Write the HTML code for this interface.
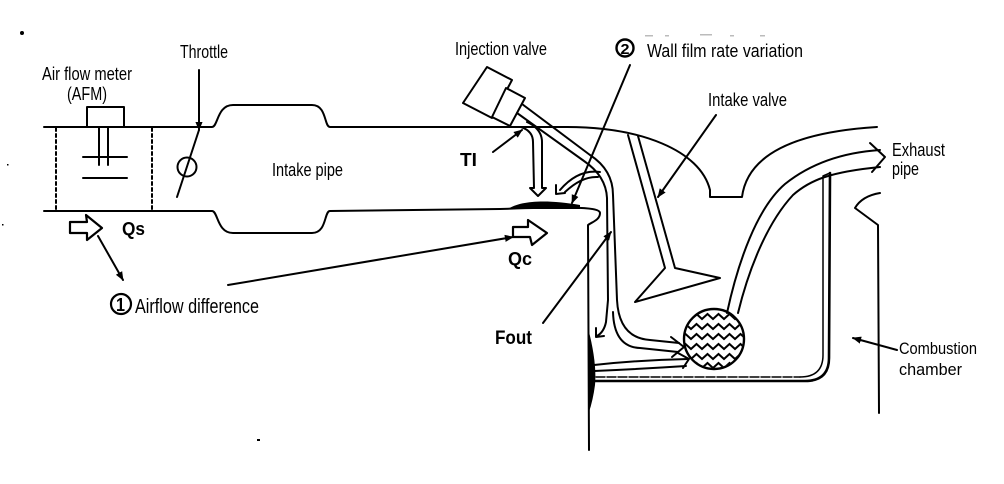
<!DOCTYPE html>
<html><head><meta charset="utf-8"><style>
html,body{margin:0;padding:0;background:#fff;}
svg{display:block;}
text{font-family:"Liberation Sans",Arial,sans-serif;fill:#000;}
</style></head><body>
<svg width="1004" height="484" viewBox="0 0 1004 484" xmlns="http://www.w3.org/2000/svg">
<defs>
<marker id="ah" viewBox="0 0 10 10" refX="9" refY="5" markerWidth="9" markerHeight="9" markerUnits="userSpaceOnUse" orient="auto">
<path d="M0,1 L10,5 L0,9 Z" fill="#000"/>
</marker>
<clipPath id="cc"><circle cx="714" cy="339" r="29"/></clipPath>
</defs>
<g fill="none" stroke="#000" stroke-width="2" stroke-linejoin="round" stroke-linecap="round">
<!-- intake pipe top -->
<path d="M44,127 L212,127 C218,127 217,105 233,105 L312,105 C327,105 324,127 330,127 L567,127 C640,127 700,150 710,190 L710,197 L742,197 Q750,135 877,127"/>
<!-- intake pipe bottom -->
<path d="M44,211 L212,211 C218,211 217,233 233,233 L312,233 C327,233 324,211 330,211 L500,209 C560,207 600,206 600,213 C600,220 592,222 588,225 L589,450"/>
<!-- dotted AFM section -->
<path d="M56,128 L56,211 M152,128 L152,211" stroke-dasharray="3,3" stroke-width="2"/>
<!-- AFM -->
<path d="M87,127 L87,107 L124,107 L124,127"/>
<path d="M99,127 L99,165 M108,127 L108,165 M83,157 L127,157 M83,178 L127,178"/>
<!-- throttle -->
<path d="M199,70 L199,130" marker-end="url(#ah)"/>
<path d="M199,130 L177,197"/>
<circle cx="187" cy="167" r="9.5"/>
<!-- Qs block arrow -->
<path d="M70,222 L87,222 L86,215 L102,228 L87,240 L87,233 L70,233 Z" stroke-width="2.2"/>
<!-- Qc block arrow -->
<path d="M513,227 L528,227 L528,220 L547,233 L532,245 L530,237 L513,237 Z" stroke-width="2.2"/>
<!-- airflow difference arrows -->
<path d="M98,236 L123,280" marker-end="url(#ah)"/>
<path d="M228,285 L513,237" marker-end="url(#ah)"/>
<!-- injector -->
<path d="M463,103 L487,67 L512,80 L492,118 Z" fill="#fff"/>
<path d="M492,117 L506,88 L525,98 L510,126 Z" fill="#fff"/>
<!-- nozzle / fuel flow double line -->
<path d="M522,104 L590,155 Q613,170 613,195 L617,300 Q619,338 650,340 L679,343"/>
<path d="M517,113 L584,161 Q606,176 607,198 L608,300 L606,322 Q604,332 597,336"/>
<path d="M613,312 Q614,347 640,348 L678,352"/>
<path d="M671,337 L684,347 L672,357"/>
<path d="M596,328 L596,337 L604,336"/>
<!-- TI double arrow -->
<path d="M521,127 Q533,131 533,142 L534,188 L530,188 L538,196 L546,188 L542,188 L542,142 Q542,129 527,122"/>
<!-- small curved arrow back to film -->
<path d="M600,172 Q578,169 560,190"/>
<path d="M598,177 Q582,176 565,192"/>
<path d="M556,185 L556,194 L565,193"/>
<!-- lower flow arrow to circle -->
<path d="M594,365 Q640,360 688,359"/>
<path d="M594,371 Q640,369 686,366"/>
<path d="M678,353 L689,359 L683,368"/>
<!-- label arrows -->
<path d="M493,152 L522,130" marker-end="url(#ah)"/>
<path d="M630,65 L572,203" marker-end="url(#ah)"/>
<path d="M716,115 L658,197" marker-end="url(#ah)"/>
<path d="M543,323 L611,232" marker-end="url(#ah)"/>
<path d="M897,350 L853,338" marker-end="url(#ah)"/>
<!-- intake valve -->
<path d="M628,135 L665,268 L635,302 L720,278 L675,268 L638,136"/>
<!-- exhaust flow arrow -->
<path d="M727,313 C738,262 757,208 785,184 C815,160 850,152 880,150"/>
<path d="M738,313 C748,272 766,224 793,195 C810,180 830,172 880,167"/>
<path d="M870,143 L885,157 L872,172"/>
<!-- chamber flow along bottom and right -->
<path d="M593,381 L805,381 Q829,381 829,358 L830,173" stroke-width="2.6"/>
<path d="M596,377 L800,377" stroke-width="1.4" stroke-dasharray="9,2"/>
<path d="M800,377 Q823,377 823,355 L823,176 L830,173" stroke-width="1.5"/>
<!-- right cylinder wall -->
<path d="M880,193 Q862,196 855,208 L878,225 L879,413"/>
<!-- circle -->
<circle cx="714" cy="339" r="30" stroke-width="2.4"/>
<g clip-path="url(#cc)" stroke-width="2" stroke-linejoin="miter">
<path d="M680,319 l5.5,-5 l5.5,5 l5.5,-5 l5.5,5 l5.5,-5 l5.5,5 l5.5,-5 l5.5,5 l5.5,-5 l5.5,5 l5.5,-5 l5.5,5 l5.5,-5 l5.5,5"/>
<path d="M680,329 l5.5,-5 l5.5,5 l5.5,-5 l5.5,5 l5.5,-5 l5.5,5 l5.5,-5 l5.5,5 l5.5,-5 l5.5,5 l5.5,-5 l5.5,5 l5.5,-5 l5.5,5"/>
<path d="M680,339 l5.5,-5 l5.5,5 l5.5,-5 l5.5,5 l5.5,-5 l5.5,5 l5.5,-5 l5.5,5 l5.5,-5 l5.5,5 l5.5,-5 l5.5,5 l5.5,-5 l5.5,5"/>
<path d="M680,349 l5.5,-5 l5.5,5 l5.5,-5 l5.5,5 l5.5,-5 l5.5,5 l5.5,-5 l5.5,5 l5.5,-5 l5.5,5 l5.5,-5 l5.5,5 l5.5,-5 l5.5,5"/>
<path d="M680,359 l5.5,-5 l5.5,5 l5.5,-5 l5.5,5 l5.5,-5 l5.5,5 l5.5,-5 l5.5,5 l5.5,-5 l5.5,5 l5.5,-5 l5.5,5 l5.5,-5 l5.5,5"/>
<path d="M680,368 l5.5,-5 l5.5,5 l5.5,-5 l5.5,5 l5.5,-5 l5.5,5 l5.5,-5 l5.5,5 l5.5,-5 l5.5,5 l5.5,-5 l5.5,5 l5.5,-5 l5.5,5"/>
</g>
<!-- circled numbers -->
<circle cx="121" cy="304" r="10" stroke-width="2.2"/>
<circle cx="625" cy="48" r="8.5" stroke-width="2.4"/>
</g>
<!-- wall films -->
<path d="M508,209 C520,201 545,199 580,205 L580,209 Z" fill="#000"/>
<path d="M588,328 Q597,362 595,385 Q593,400 589,412 Z" fill="#000"/>
<!-- stray specks -->
<circle cx="22" cy="33" r="2" fill="#000"/>
<rect x="7" y="164" width="1.5" height="1.5" fill="#000"/>
<rect x="2" y="224" width="1.5" height="1.5" fill="#000"/>
<rect x="257" y="439" width="3" height="2" fill="#000"/>
<g fill="#bbb"><rect x="645" y="35" width="8" height="1.5"/><rect x="665" y="35" width="4" height="1.5"/><rect x="700" y="34" width="12" height="1.5"/><rect x="730" y="35" width="4" height="1.5"/><rect x="760" y="35" width="5" height="1.5"/></g>
<!-- labels -->
<text x="180" y="58" font-size="18" textLength="48" lengthAdjust="spacingAndGlyphs">Throttle</text>
<text x="42" y="80" font-size="18" textLength="90" lengthAdjust="spacingAndGlyphs">Air flow meter</text>
<text x="67" y="100" font-size="18" textLength="40" lengthAdjust="spacingAndGlyphs">(AFM)</text>
<text x="272" y="176" font-size="18" textLength="71" lengthAdjust="spacingAndGlyphs">Intake pipe</text>
<text x="122" y="235" font-size="18" font-weight="bold" textLength="23" lengthAdjust="spacingAndGlyphs">Qs</text>
<text x="116" y="311" font-size="18" font-weight="bold" textLength="9" lengthAdjust="spacingAndGlyphs">1</text>
<text x="135" y="313" font-size="20" textLength="124" lengthAdjust="spacingAndGlyphs">Airflow difference</text>
<text x="455" y="55" font-size="18" textLength="92" lengthAdjust="spacingAndGlyphs">Injection valve</text>
<text x="620.5" y="54" font-size="15" font-weight="bold" textLength="9" lengthAdjust="spacingAndGlyphs">2</text>
<text x="647" y="57" font-size="18" textLength="156" lengthAdjust="spacingAndGlyphs">Wall film rate variation</text>
<text x="460" y="166" font-size="18" font-weight="bold" textLength="17" lengthAdjust="spacingAndGlyphs">TI</text>
<text x="708" y="106" font-size="18" textLength="79" lengthAdjust="spacingAndGlyphs">Intake valve</text>
<text x="892" y="156" font-size="18" textLength="53" lengthAdjust="spacingAndGlyphs">Exhaust</text>
<text x="892" y="175" font-size="18" textLength="27" lengthAdjust="spacingAndGlyphs">pipe</text>
<text x="508" y="265" font-size="18" font-weight="bold" textLength="24" lengthAdjust="spacingAndGlyphs">Qc</text>
<text x="495" y="344" font-size="19" font-weight="bold" textLength="37" lengthAdjust="spacingAndGlyphs">Fout</text>
<text x="899" y="354" font-size="17" textLength="78" lengthAdjust="spacingAndGlyphs">Combustion</text>
<text x="899" y="375" font-size="17" textLength="63" lengthAdjust="spacingAndGlyphs">chamber</text>
</svg>
</body></html>
